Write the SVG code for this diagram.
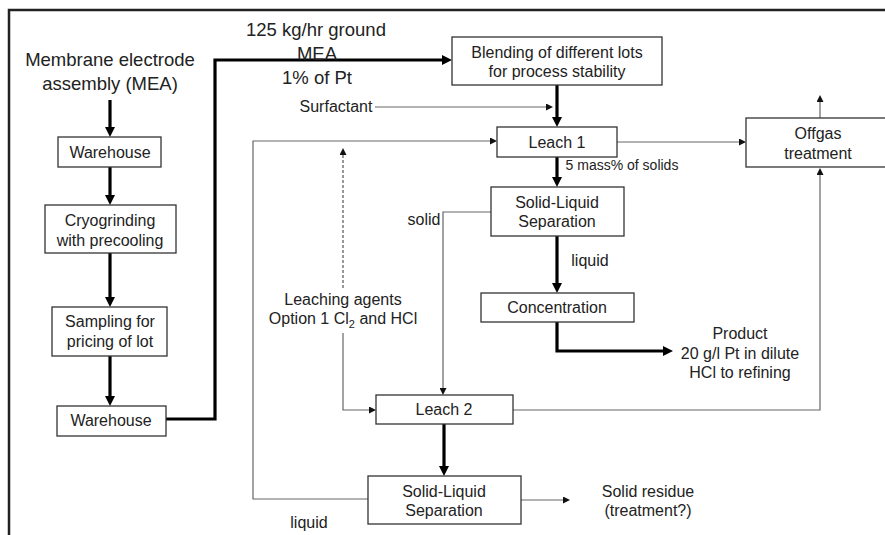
<svg xmlns="http://www.w3.org/2000/svg" width="885" height="535" viewBox="0 0 885 535">
<style>
text{font-family:"Liberation Sans",Arial,sans-serif;fill:#222;text-anchor:middle}
.b{fill:#fff;stroke:#333;stroke-width:1.3}
.t15{font-size:16px}
.t14{font-size:16px}
.t17{font-size:18.5px}
.thick{fill:none;stroke:#000;stroke-width:3.2}
.thin{fill:none;stroke:#666;stroke-width:1.2}
.dash{fill:none;stroke:#777;stroke-width:1.5;stroke-dasharray:3 2}
</style>
<defs>
<marker id="big" viewBox="0 0 10 10" refX="0" refY="5" markerWidth="10" markerHeight="11" markerUnits="userSpaceOnUse" orient="auto"><path d="M0,0 L10,5 L0,10 z" fill="#000"/></marker>
<marker id="sm" viewBox="0 0 10 10" refX="0" refY="5" markerWidth="7" markerHeight="7" markerUnits="userSpaceOnUse" orient="auto"><path d="M0,0 L10,5 L0,10 z" fill="#111"/></marker>
</defs>
<rect width="885" height="535" fill="#fff"/>
<path d="M9,535 V10 H885" fill="none" stroke="#222" stroke-width="2.5"/>

<g id="connectors">
<path class="thick" d="M110,100 V127" marker-end="url(#big)"/>
<path class="thick" d="M110,167 V195" marker-end="url(#big)"/>
<path class="thick" d="M110,253 V297" marker-end="url(#big)"/>
<path class="thick" d="M110,356 V396" marker-end="url(#big)"/>
<path class="thick" d="M166,419 H215 V60 H442" marker-end="url(#big)"/>
<path class="thick" d="M557,85 V117" marker-end="url(#big)"/>
<path class="thick" d="M557,157 V177" marker-end="url(#big)"/>
<path class="thick" d="M557,236 V283" marker-end="url(#big)"/>
<path class="thick" d="M557,322 V351 H663" marker-end="url(#big)"/>
<path class="thick" d="M444,424 V466" marker-end="url(#big)"/>
<path class="thin" d="M375,107 H546" marker-end="url(#sm)"/>
<path class="thin" d="M368,499 H253 V141 H490" marker-end="url(#sm)"/>
<path class="thin" d="M617,142 H739" marker-end="url(#sm)"/>
<path class="thin" d="M820,118 V102" marker-end="url(#sm)"/>
<path class="thin" d="M513,410 H820 V175" marker-end="url(#sm)"/>
<path class="thin" d="M521,500 H563" marker-end="url(#sm)"/>
<path class="thin" d="M491,212 H443 V388" marker-end="url(#sm)"/>
<path class="thin" d="M343,333 V410 H369" marker-end="url(#sm)"/>
<path class="dash" d="M343,288 V155" marker-end="url(#sm)"/>
</g>

<g id="mea"><text class="t17" x="110" y="66">Membrane electrode</text><text class="t17" x="110" y="90">assembly (MEA)</text></g>
<g id="warehouse1"><rect class="b" x="58" y="137" width="103" height="30"/><text class="t15" x="110" y="158">Warehouse</text></g>
<g id="cryogrinding"><rect class="b" x="45" y="205" width="131" height="48"/><text class="t15" x="110" y="226">Cryogrinding</text><text class="t15" x="110" y="246">with precooling</text></g>
<g id="sampling"><rect class="b" x="52" y="307" width="115" height="49"/><text class="t15" x="110" y="327">Sampling for</text><text class="t15" x="110" y="347">pricing of lot</text></g>
<g id="warehouse2"><rect class="b" x="57" y="406" width="109" height="30"/><text class="t15" x="111" y="426">Warehouse</text></g>
<g id="feed-label"><text class="t17" x="316" y="36">125 kg/hr ground</text><text class="t17" x="317" y="60">MEA</text><text class="t17" x="317" y="84">1% of Pt</text></g>
<g id="blending"><rect class="b" x="452" y="37" width="210" height="48"/><text class="t15" x="557" y="58">Blending of different lots</text><text class="t15" x="557" y="77">for process stability</text></g>
<g id="surfactant"><text class="t14" x="336" y="112">Surfactant</text></g>
<g id="leach1"><rect class="b" x="497" y="127" width="120" height="30"/><text class="t15" x="557" y="148">Leach 1</text></g>
<g id="solids-label"><text x="622" y="170" style="font-size:14px">5 mass% of solids</text></g>
<g id="offgas"><rect class="b" x="746" y="118" width="150" height="49"/><text class="t15" x="818" y="139">Offgas</text><text class="t15" x="818" y="159">treatment</text></g>
<g id="sls1"><rect class="b" x="491" y="187" width="133" height="49"/><text class="t15" x="557" y="208">Solid-Liquid</text><text class="t15" x="557" y="227">Separation</text></g>
<g id="solid-label"><text class="t14" x="424" y="225">solid</text></g>
<g id="liquid-label1"><text class="t14" x="590" y="266">liquid</text></g>
<g id="concentration"><rect class="b" x="481" y="293" width="153" height="29"/><text class="t15" x="557" y="313">Concentration</text></g>
<g id="product"><text class="t15" x="740" y="339">Product</text><text class="t15" x="740" y="359">20 g/l Pt in dilute</text><text class="t15" x="740" y="378">HCl to refining</text></g>
<g id="leaching-agents"><text class="t15" x="343" y="305">Leaching agents</text><text class="t15" x="343" y="324">Option 1 Cl<tspan style="font-size:11px" dy="4">2</tspan><tspan dy="-4"> and HCl</tspan></text></g>
<g id="leach2"><rect class="b" x="376" y="395" width="137" height="29"/><text class="t15" x="444" y="415">Leach 2</text></g>
<g id="sls2"><rect class="b" x="368" y="476" width="153" height="48"/><text class="t15" x="444" y="497">Solid-Liquid</text><text class="t15" x="444" y="516">Separation</text></g>
<g id="residue"><text class="t15" x="648" y="497">Solid residue</text><text class="t15" x="648" y="516">(treatment?)</text></g>
<g id="liquid-label2"><text class="t14" x="309" y="528">liquid</text></g>
</svg>
